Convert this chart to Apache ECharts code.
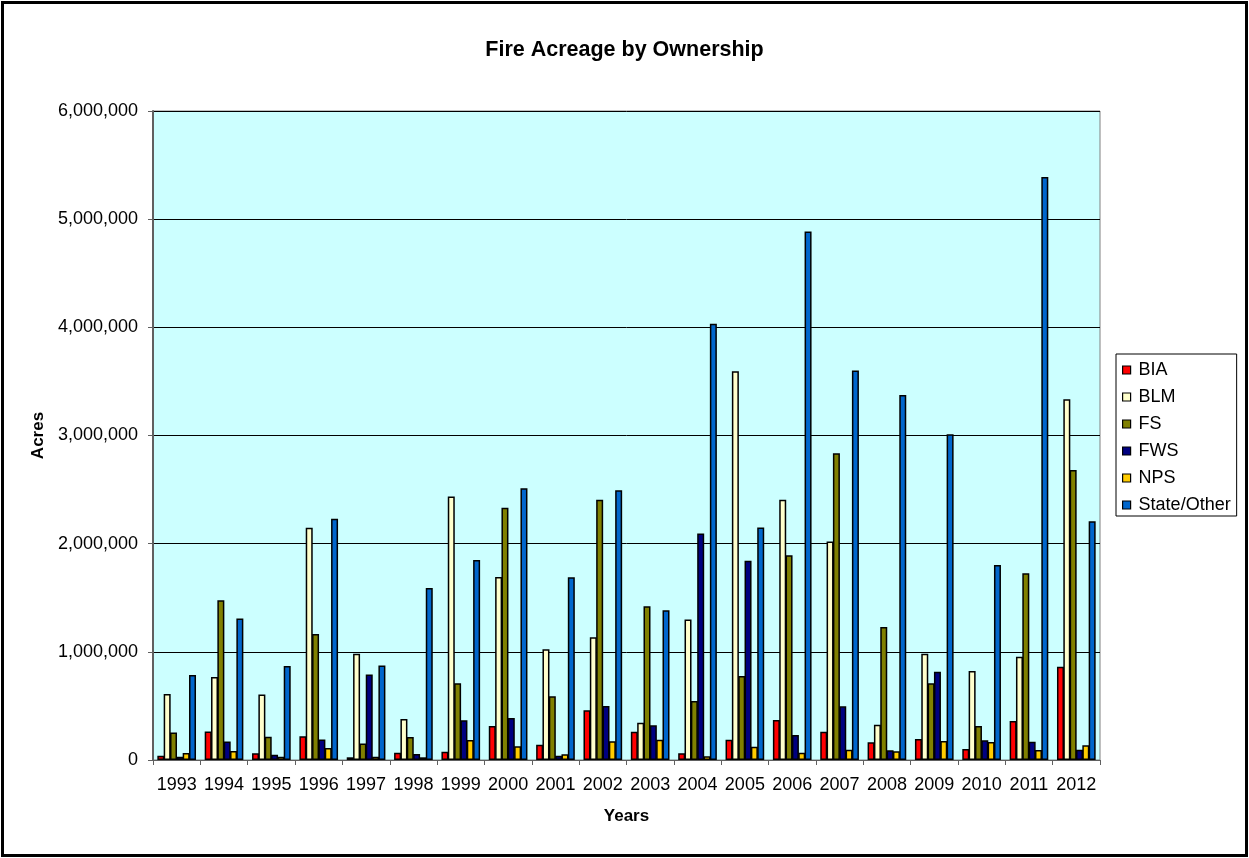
<!DOCTYPE html>
<html>
<head>
<meta charset="utf-8">
<script src="https://cdn.jsdelivr.net/npm/echarts@6/dist/echarts.min.js"></script>
<style>
  html, body { margin: 0; padding: 0; background: #fff; }
  #main { width: 1249px; height: 858px; }
  #frame {
    position: absolute; left: 1px; top: 1px;
    width: 1241px; height: 850px;
    border: 3px solid #000; pointer-events: none;
  }
</style>
</head>
<body>
<div id="main"></div>
<div id="frame"></div>
<script>
// years on the x axis
var years = ["1993", "1994", "1995", "1996", "1997", "1998", "1999", "2000", "2001", "2002",
  "2003", "2004", "2005", "2006", "2007", "2008", "2009", "2010", "2011", "2012"];

// acres burned
var bia = [39000, 263000, 62000, 220000, 25000, 66000, 76000, 314000, 141000, 459000,
  262000, 62000, 188000, 370000, 262000, 164000, 194000, 102000, 361000, 863000];
var blm = [610000, 767000, 605000, 2148000, 982000, 380000, 2437000, 1692000, 1023000, 1134000,
  345000, 1300000, 3593000, 2405000, 2020000, 326000, 983000, 823000, 955000, 3336000];
var fs = [254000, 1478000, 214000, 1166000, 153000, 212000, 710000, 2332000, 589000, 2405000,
  1421000, 545000, 777000, 1892000, 2836000, 1230000, 709000, 314000, 1726000, 2680000];
var fws = [30000, 171000, 48000, 190000, 790000, 55000, 368000, 388000, 40000, 499000,
  321000, 2094000, 1842000, 231000, 496000, 90000, 816000, 182000, 169000, 95000];
var nps = [64000, 83000, 30000, 110000, 30000, 25000, 186000, 127000, 53000, 173000,
  188000, 34000, 123000, 68000, 95000, 80000, 176000, 166000, 92000, 136000];
var stateOther = [785000, 1308000, 870000, 2231000, 874000, 1590000, 1849000, 2512000, 1690000, 2494000,
  1385000, 4033000, 2150000, 4887000, 3600000, 3375000, 3012000, 1803000, 5389000, 2208000];

var seriesNames = ["BIA", "BLM", "FS", "FWS", "NPS", "State/Other"];
var seriesData = [bia, blm, fs, fws, nps, stateOther];
var seriesColors = ["#FF0000", "#FFFFCC", "#808000", "#000080", "#FFCC00", "#0066CC"];

var font = "Arial, 'Liberation Sans', sans-serif";

var chart = echarts.init(document.getElementById("main"));

var series = [];
for (var i = 0; i < seriesNames.length; i++) {
  series.push({
    name: seriesNames[i],
    type: "bar",
    data: seriesData[i],
    barWidth: 7,
    barGap: "-9.5%",
    itemStyle: {
      color: seriesColors[i],
      borderColor: "#000",
      borderWidth: 1.5
    }
  });
}

chart.setOption({
  animation: false,
  textStyle: { fontFamily: font },
  title: {
    text: "Fire Acreage by Ownership",
    left: "center",
    top: 34,
    textStyle: {
      fontFamily: font,
      fontSize: 21.5,
      fontWeight: "bold",
      color: "#000"
    }
  },
  legend: {
    orient: "vertical",
    left: 1116,
    top: 354,
    data: seriesNames,
    icon: "rect",
    itemWidth: 8,
    itemHeight: 8,
    itemGap: 9,
    padding: [7, 6, 2, 6],
    borderColor: "#000",
    borderWidth: 1,
    backgroundColor: "#fff",
    itemStyle: { borderWidth: 1.2, borderColor: "#000" },
    textStyle: {
      fontFamily: font,
      fontSize: 18,
      color: "#000",
      padding: [0, 0, 0, 3]
    }
  },
  grid: {
    left: 153,
    right: 149,
    top: 111,
    bottom: 98,
    show: true,
    backgroundColor: "#CCFFFF",
    borderColor: "#808080",
    borderWidth: 1
  },
  xAxis: {
    type: "category",
    data: years,
    name: "Years",
    nameLocation: "middle",
    nameGap: 48,
    nameTextStyle: {
      fontFamily: font,
      fontSize: 17,
      fontWeight: "bold",
      color: "#000"
    },
    axisLine: { show: true, lineStyle: { color: "#606060", width: 1 } },
    axisTick: { show: true, alignWithLabel: false, interval: 0, length: 5, lineStyle: { color: "#606060" } },
    axisLabel: {
      interval: 0,
      margin: 16,
      fontFamily: font,
      fontSize: 18,
      color: "#000"
    },
    splitLine: { show: false }
  },
  yAxis: {
    type: "value",
    min: 0,
    max: 6000000,
    interval: 1000000,
    name: "Acres",
    nameLocation: "middle",
    nameRotate: 90,
    nameGap: 104,
    nameTextStyle: {
      fontFamily: font,
      fontSize: 17,
      fontWeight: "bold",
      color: "#000"
    },
    axisLine: { show: true, lineStyle: { color: "#606060", width: 2 } },
    axisTick: { show: true, length: 5, lineStyle: { color: "#606060" } },
    axisLabel: {
      margin: 15,
      fontFamily: font,
      fontSize: 18,
      color: "#000",
      formatter: function (v) {
        return v.toLocaleString("en-US");
      }
    },
    splitLine: { show: true, lineStyle: { color: "#000", width: 1 } }
  },
  series: series
});
</script>
</body>
</html>
